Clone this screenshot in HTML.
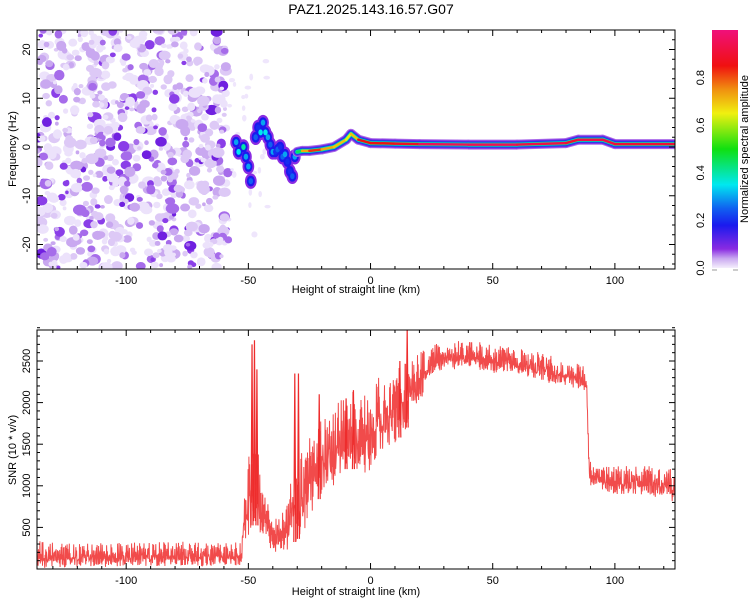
<!DOCTYPE html>
<html><head><meta charset="utf-8"><style>
body{margin:0;background:#fff;}
svg text{font-family:"Liberation Sans",sans-serif;fill:#000;}
</style></head><body>
<svg id="c" width="750" height="600" xmlns="http://www.w3.org/2000/svg">
<defs>
<linearGradient id="cb" x1="0" y1="1" x2="0" y2="0">
<stop offset="0" stop-color="#f4eefc"/><stop offset="0.04" stop-color="#c9a8f0"/>
<stop offset="0.08" stop-color="#8a2be2"/><stop offset="0.18" stop-color="#1a1aee"/>
<stop offset="0.25" stop-color="#1060f0"/><stop offset="0.35" stop-color="#00e8f0"/>
<stop offset="0.5" stop-color="#10e010"/><stop offset="0.65" stop-color="#f0f010"/>
<stop offset="0.75" stop-color="#f09010"/><stop offset="0.85" stop-color="#f01010"/>
<stop offset="1" stop-color="#f0107a"/>
</linearGradient>
<clipPath id="cp1"><rect x="37" y="30" width="638" height="239"/></clipPath>
<clipPath id="cp2"><rect x="37" y="330" width="638" height="239"/></clipPath>
</defs>
<text x="371" y="14" font-size="14" text-anchor="middle">PAZ1.2025.143.16.57.G07</text>
<g id="topg" clip-path="url(#cp1)"></g>
<g id="botg" clip-path="url(#cp2)"></g>
<g id="axes"></g>
<rect x="712" y="30" width="26" height="238" fill="url(#cb)"/>
<g id="cbax"></g>
<text transform="translate(748,149) rotate(-90)" font-size="11" text-anchor="middle">Normalized spectral amplitude</text>
<text transform="translate(16,149) rotate(-90)" font-size="11" text-anchor="middle">Frequency (Hz)</text>
<text transform="translate(16,450) rotate(-90)" font-size="11" text-anchor="middle">SNR (10 * v/v)</text>
<text x="356" y="293" font-size="11" text-anchor="middle">Height of straight line (km)</text>
<text x="356" y="595" font-size="11" text-anchor="middle">Height of straight line (km)</text>
</svg>
<script>
// ---- data ----
const ridgeH = [-30,-28,-25,-20,-15,-10,-8,-5,0,10,20,40,60,80,85,95,100,125];
const ridgeF = [-1,-0.8,-0.8,-0.5,0,1.5,2.7,1.5,0.8,0.7,0.6,0.5,0.5,0.8,1.5,1.5,0.6,0.6];
const ridgeA = [0.35,0.55,0.9,0.75,0.7,0.7,0.6,0.8,0.9,0.8,0.95,0.95,0.95,0.9,0.9,0.95,0.9,0.9];
const blobH = [-55,-54,-52,-51,-50,-49,-47,-46,-45,-44,-43,-42,-41,-40,-39,-38,-37,-36,-35,-34,-33,-32,-31];
const blobF = [1,-1,0,-2,-4,-7,2,4,3,5,3,2,0.5,-1,-1,-0.5,0,-2,-1.5,-3,-5,-6,-2];
const blobA = [0.3,0.35,0.4,0.3,0.3,0.25,0.25,0.2,0.35,0.3,0.35,0.3,0.25,0.3,0.2,0.25,0.2,0.25,0.3,0.2,0.2,0.25,0.3];
const snrH  = [-136,-130,-120,-100,-80,-60,-53,-52,-50,-48,-46,-44,-40,-35,-32,-28,-25,-20,-15,-10,-5,0,3,10,15,20,25,30,40,50,60,70,80,87,88.5,89.5,95,100,110,125];
const snrLo = [0,20,20,30,30,30,30,300,300,600,500,300,200,200,300,400,600,900,1000,1200,1200,1100,1400,1500,1700,2000,2300,2400,2400,2350,2350,2250,2200,2150,2100,1000,950,900,900,800];
const snrHi = [350,320,300,320,330,330,320,800,1400,1800,1600,1000,600,700,1400,1400,1600,1900,2000,2100,2200,2100,2300,2400,2500,2600,2700,2750,2750,2700,2650,2600,2500,2450,2300,1300,1250,1250,1250,1200];
const spikeH = [-48.5,-47.5,-46.5,-31,-29.5,-21,-10,-7,12,15];
const spikeV = [2700,2750,2400,2350,2350,2100,2050,2150,2500,2900];
const xTicks = [-100,-50,0,50,100];
const fTicks = [-20,-10,0,10,20];
const sTicks = [500,1000,1500,2000,2500];
const cTicks = [0,0.2,0.4,0.6,0.8];
// ---- scales ----
const X0=37,X1=675,XMIN=-136.5,XMAX=124.6;
const xs=v=>X0+(v-XMIN)/(XMAX-XMIN)*(X1-X0);
const fy=v=>147-v*4.875;
const sy=v=>569-v*0.0832;
const NS='http://www.w3.org/2000/svg';
function mk(t,a,p){const e=document.createElementNS(NS,t);for(const k in a)e.setAttribute(k,a[k]);p.appendChild(e);return e;}
let seed=12345;const rnd=()=>{seed=(seed*16807)%2147483647;return seed/2147483647;};
function interp(H,V,h){if(h<=H[0])return V[0];for(let i=1;i<H.length;i++){if(h<=H[i]){const t=(h-H[i-1])/(H[i]-H[i-1]);return V[i-1]+t*(V[i]-V[i-1]);}}return V[V.length-1];}
function cmap(a){const s=[[0,[244,238,252]],[0.04,[201,168,240]],[0.08,[138,43,226]],[0.18,[26,26,238]],[0.25,[16,96,240]],[0.35,[0,232,240]],[0.5,[16,224,16]],[0.65,[240,240,16]],[0.75,[240,144,16]],[0.85,[240,16,16]],[1,[240,16,122]]];
for(let i=1;i<s.length;i++){if(a<=s[i][0]){const t=(a-s[i-1][0])/(s[i][0]-s[i-1][0]);const c=s[i-1][1].map((v,j)=>Math.round(v+t*(s[i][1][j]-v)));return `rgb(${c.join(',')})`;}}return 'rgb(240,16,122)';}
// ---- spectrogram noise texture ----
const topG=document.getElementById('topg');
const noiseCols=['#ece2fb','#ddc9f6','#c9a8f0','#a66cea','#8a3ee8','#7020e0'];
for(let i=0;i<800;i++){const x=37+rnd()*(229-37),y=30+rnd()*239;const r=rnd();const c=r<0.35?0:r<0.6?1:r<0.78?2:r<0.9?3:r<0.97?4:5;
const rr=1.8+rnd()*3.5;
const b=mk('ellipse',{cx:x,cy:y,rx:rr*(0.9+rnd()*0.4),ry:rr,fill:noiseCols[c]},topG);

}
for(let i=0;i<30;i++){const x=229+rnd()*40,y=60+rnd()*180;const b=mk('ellipse',{cx:x,cy:y,rx:1.5+rnd()*2,ry:1.5+rnd()*2,fill:'#efe6fc'},topG);

}
// ---- early scattered ridge blobs ----
const blayers=[[6.5,0.08],[4.5,0.18],[2.5,1]];
blayers.forEach(([r,f])=>{blobH.forEach((h,i)=>{const a=blobA[i];const b=mk('ellipse',{cx:xs(h),cy:fy(blobF[i]),rx:r*0.9,ry:r*1.2,fill:cmap(f===1?a:Math.min(a,f))},topG);

});});
// ---- ridge ----
const layers=[[10,0.06],[8,0.1],[6,0.22],[4,0.4],[2.5,1]];
layers.forEach(([w,f])=>{for(let i=1;i<ridgeH.length;i++){const a=(ridgeA[i-1]+ridgeA[i])/2;const l=mk('line',{x1:xs(ridgeH[i-1]),y1:fy(ridgeF[i-1]),x2:xs(ridgeH[i]),y2:fy(ridgeF[i]),stroke:cmap(f===1?a:Math.min(a,f)),'stroke-width':w,'stroke-linecap':'round'},topG);

}});
// ---- SNR trace ----
const botG=document.getElementById('botg');
let d='';let k=0;
for(let h=XMIN;h<=XMAX;h+=0.15,k++){const lo=interp(snrH,snrLo,h),hi=interp(snrH,snrHi,h);const j=rnd();const v=(k%2?lo+(hi-lo)*j*0.5:hi-(hi-lo)*j*0.75);d+=(d?'L':'M')+xs(h).toFixed(1)+','+sy(v).toFixed(1);}
const tr=mk('path',{d:d,fill:'none',stroke:'#ee2c2c','stroke-width':1,'stroke-opacity':0.85},botG);


spikeH.forEach((h,i)=>{const lo=interp(snrH,snrLo,h);const s=mk('polyline',{points:`${xs(h-0.4)},${sy(lo)} ${xs(h)},${sy(spikeV[i])} ${xs(h+0.4)},${sy(lo)}`,fill:'none',stroke:'#ee2c2c','stroke-width':1.2},botG);

});
// ---- axes ----
const ax=document.getElementById('axes');
function frame(y0,y1,yt,yf,minor,ymin,ymax,prefix){
const r=mk('rect',{x:X0,y:y0,width:X1-X0,height:y1-y0,fill:'none',stroke:'#000','stroke-width':1},ax);


for(let v=-130;v<=120;v+=10){const x=xs(v);const L=v%50===0?6:3;mk('line',{x1:x,y1:y1,x2:x,y2:y1-L,stroke:'#000'},ax);mk('line',{x1:x,y1:y0,x2:x,y2:y0+L,stroke:'#000'},ax);}
xTicks.forEach(v=>{const t=mk('text',{x:xs(v),y:y1+15,'font-size':11,'text-anchor':'middle'},ax);t.textContent=v;

});
for(let v=Math.ceil(ymin/minor)*minor;v<=ymax;v+=minor){const y=yf(v);const L=yt.includes(v)?6:3;mk('line',{x1:X0,y1:y,x2:X0+L,y2:y,stroke:'#000'},ax);mk('line',{x1:X1,y1:y,x2:X1-L,y2:y,stroke:'#000'},ax);}
yt.forEach(v=>{const t=mk('text',{transform:`translate(30,${yf(v)}) rotate(-90)`,'font-size':11,'text-anchor':'middle'},ax);t.textContent=v;

});}
frame(30,269,fTicks,fy,2,-25,24,'top');
frame(330,569,sTicks,sy,100,0,2900,'bottom');
const cb=document.getElementById('cbax');
cTicks.forEach(v=>{const y=268-v*238;const t=mk('text',{transform:`translate(704,${y}) rotate(-90)`,'font-size':11,'text-anchor':'middle'},cb);t.textContent=v.toFixed(1);

});
mk('line',{x1:712,y1:270,x2:717,y2:270,stroke:'#999'},cb);mk('line',{x1:733,y1:270,x2:738,y2:270,stroke:'#999'},cb);
</script>
</body></html>
